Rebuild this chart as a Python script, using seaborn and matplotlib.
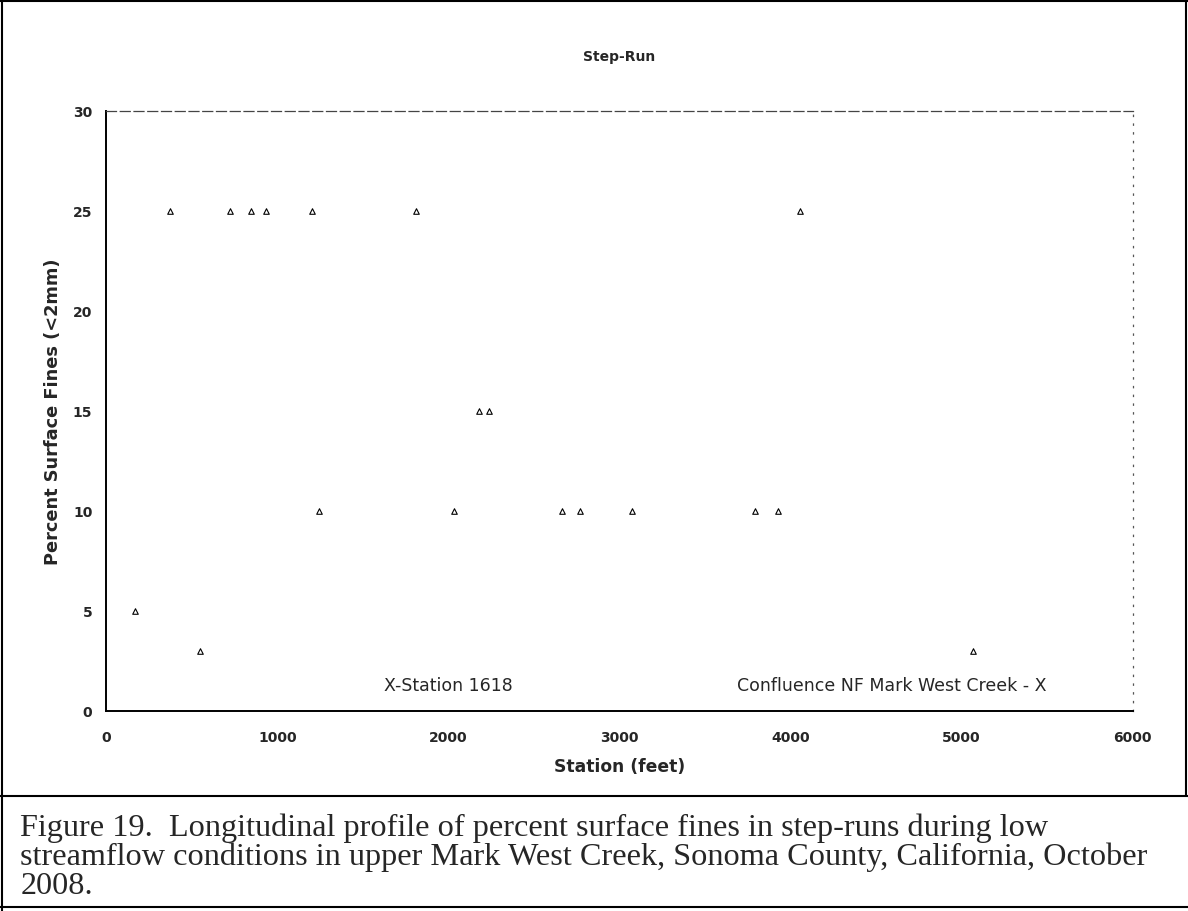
import matplotlib
matplotlib.use('Agg')
import matplotlib.pyplot as plt
import seaborn as sns
import pandas as pd

# Step-run samples
station = [169, 375, 548, 725, 847, 933, 1205, 1244, 1808, 2031,
           2177, 2237, 2663, 2771, 3071, 3790, 3925, 4052, 5065]
fines = [5, 25, 3, 25, 25, 25, 25, 10, 25, 10,
         15, 15, 10, 10, 10, 10, 10, 25, 3]

x_ticks = [0, 1000, 2000, 3000, 4000, 5000, 6000]
y_ticks = [0, 5, 10, 15, 20, 25, 30]

caption_lines = [
    "Figure 19.  Longitudinal profile of percent surface fines in step-runs during low",
    "streamflow conditions in upper Mark West Creek, Sonoma County, California, October",
    "2008.",
]

df = pd.DataFrame({'Station (feet)': station, 'Percent Surface Fines (<2mm)': fines})

sns.set_style('white')
plt.rcParams['font.family'] = ['DejaVu Sans']

fig = plt.figure(figsize=(11.88, 9.12), dpi=100)
ax = fig.add_axes([0.0895, 0.2193, 0.864, 0.658])

sns.scatterplot(data=df, x='Station (feet)', y='Percent Surface Fines (<2mm)', ax=ax,
                marker='^', s=16, facecolor='white', edgecolor='black', linewidth=0.8)

ax.set_xlim(0, 6000)
ax.set_ylim(0, 30)
ax.set_xticks(x_ticks)
ax.set_yticks(y_ticks)
ax.tick_params(axis='both', labelsize=10, length=3, width=0.8, color='black')
ax.tick_params(axis='y', pad=7)
ax.tick_params(axis='x', pad=11)
for lbl in ax.get_xticklabels() + ax.get_yticklabels():
    lbl.set_fontweight('bold')

ax.set_xlabel('Station (feet)', fontsize=12.3, fontweight='bold', labelpad=9)
ax.set_ylabel('Percent Surface Fines (<2mm)', fontsize=12.8, fontweight='bold', labelpad=8)
ax.set_title('Step-Run', fontsize=10, fontweight='bold', pad=37)

# plot-area frame: solid left/bottom, broken top/right as in the scan
ax.spines['left'].set_color('black')
ax.spines['left'].set_linewidth(1.4)
ax.spines['bottom'].set_color('black')
ax.spines['bottom'].set_linewidth(1.4)
ax.spines['top'].set_color('#444444')
ax.spines['top'].set_linewidth(0.9)
ax.spines['top'].set_linestyle((0, (8, 3)))
ax.spines['right'].set_color('#555555')
ax.spines['right'].set_linewidth(0.9)
ax.spines['right'].set_linestyle((0, (1, 6)))

# station markers
ax.text(2000, 1.3, 'X-Station 1618', ha='center', va='center', fontsize=12.5)
ax.text(4590, 1.3, 'Confluence NF Mark West Creek - X', ha='center', va='center', fontsize=12.5)

# outer frames
fig.add_artist(plt.Line2D([0.002, 0.002], [0, 1], color='black', lw=1.5))
fig.add_artist(plt.Line2D([0, 1], [0.998, 0.998], color='black', lw=1.5))
fig.add_artist(plt.Line2D([0.998, 0.998], [0.126, 1], color='black', lw=1.5))
fig.add_artist(plt.Line2D([0, 1], [0.126, 0.126], color='black', lw=1.5))
fig.add_artist(plt.Line2D([0, 1], [0.004, 0.004], color='black', lw=1.5))

for i, line in enumerate(caption_lines):
    fig.text(0.017, 1 - (828 + 29.5 * i) / 912, line, ha='left', va='center',
             fontsize=23.2, family='Liberation Serif')

fig.savefig('out.png', dpi=100)
